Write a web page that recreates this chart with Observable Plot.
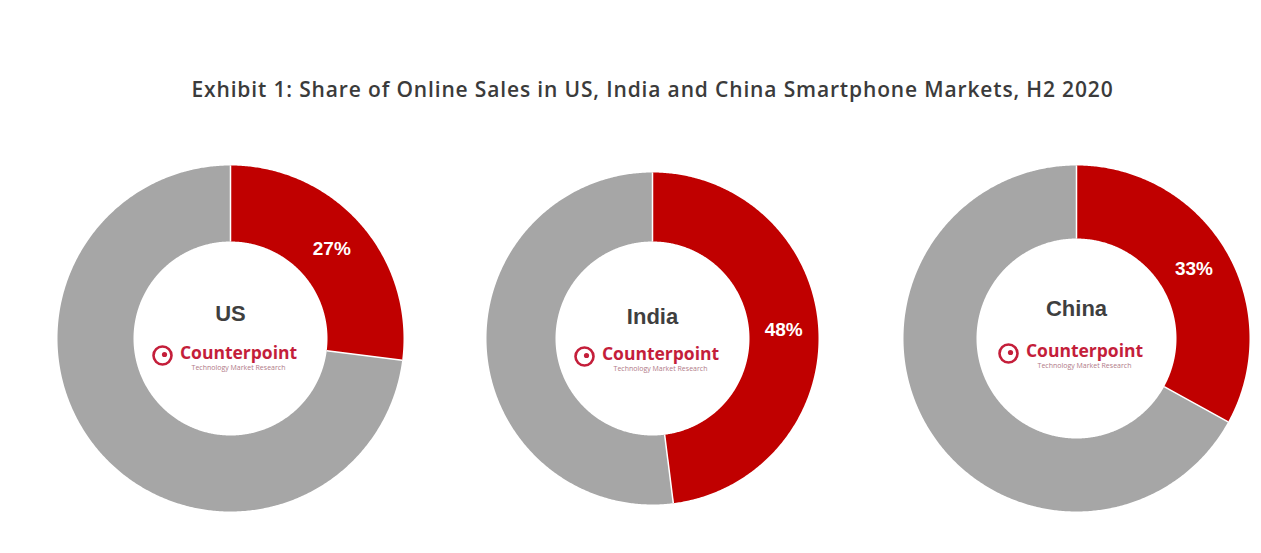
<!DOCTYPE html>
<html><head><meta charset="utf-8">
<script src="https://cdn.jsdelivr.net/npm/d3@7"></script>
<script src="https://cdn.jsdelivr.net/npm/@observablehq/plot@0.6"></script>
<style>
body{margin:0;background:#fff;}
#wrap{position:relative;width:1261px;height:553px;overflow:hidden;}
#title{position:absolute;left:0;top:75px;width:1305px;text-align:center;font-family:"Open Sans",sans-serif;font-weight:600;font-size:21px;letter-spacing:0.85px;color:#3b3b3b;white-space:nowrap;}
#chart{position:absolute;left:0;top:0;}
</style></head><body>
<div id="wrap"><div id="chart"></div><div id="title">Exhibit 1: Share of Online Sales in US, India and China Smartphone Markets, H2 2020</div></div>
<script>
// ---- data ----
const markets = ["US", "India", "China"];
const onlineShare = [27, 48, 33];
const otherShare = [73, 52, 67];
const sliceNames = ["Online", "Other"];
const sliceColors = ["#c00000", "#a6a6a6"];
const brand = "Counterpoint";
const brandSub = "Technology Market Research";

// ---- layout (positions/sizes) ----
const W = 1261, H = 553;
const layout = [
  {cx: 230, cy: 338, R: 173, r: 97, nameDy: -25, logoDy: 17},
  {cx: 652, cy: 338, R: 166, r: 97, nameDy: -22, logoDy: 18},
  {cx: 1076, cy: 338, R: 173, r: 100, nameDy: -30, logoDy: 15}
];

// ---- build geometry from values ----
const polys = [], seps = [], pctLabels = [], centers = [];
markets.forEach((m, i) => {
  const L = layout[i];
  const vals = [onlineShare[i], otherShare[i]];
  const total = d3.sum(vals);
  let start = 0;
  vals.forEach((v, j) => {
    const a0 = start / total * 2 * Math.PI, a1 = (start + v) / total * 2 * Math.PI;
    const n = Math.max(2, Math.ceil((a1 - a0) / (Math.PI / 360)));
    const key = m + "-" + sliceNames[j];
    for (let k = 0; k <= n; k++) {
      const a = a0 + (a1 - a0) * k / n;
      polys.push({key, color: sliceColors[j], x: L.cx + L.R * Math.sin(a), y: L.cy - L.R * Math.cos(a)});
    }
    for (let k = n; k >= 0; k--) {
      const a = a0 + (a1 - a0) * k / n;
      polys.push({key, color: sliceColors[j], x: L.cx + L.r * Math.sin(a), y: L.cy - L.r * Math.cos(a)});
    }
    seps.push({x1: L.cx + L.r * Math.sin(a0), y1: L.cy - L.r * Math.cos(a0), x2: L.cx + L.R * Math.sin(a0), y2: L.cy - L.R * Math.cos(a0)});
    if (j === 0) {
      const am = (a0 + a1) / 2, rm = (L.R + L.r) / 2;
      pctLabels.push({x: L.cx + rm * Math.sin(am), y: L.cy - rm * Math.cos(am), text: v + "%"});
    }
    start += v;
  });
  centers.push({name: m, cx: L.cx, cy: L.cy, nameDy: L.nameDy, logoDy: L.logoDy});
});

const brandColor = "#c41e3a";
const chart = Plot.plot({
  width: W, height: H,
  margin: 0,
  x: {domain: [0, W], range: [0, W], axis: null},
  y: {domain: [0, H], range: [0, H], axis: null},
  color: {type: "identity"},
  style: {fontFamily: "'Liberation Sans', Arial, sans-serif", background: "white"},
  marks: [
    Plot.line(polys, {x: "x", y: "y", z: "key", fill: "color", stroke: null, curve: "linear-closed"}),
    Plot.link(seps, {x1: "x1", y1: "y1", x2: "x2", y2: "y2", stroke: "white", strokeWidth: 1.5}),
    Plot.text(pctLabels, {x: "x", y: "y", text: "text", fill: "white", fontSize: 19, fontWeight: "bold"}),
    Plot.text(centers, {x: "cx", y: d => d.cy + d.nameDy, text: "name", fill: "#3f3f3f", fontSize: 22, fontWeight: "bold"}),
    Plot.dot(centers, {x: d => d.cx - 68, y: d => d.cy + d.logoDy, r: 9, stroke: brandColor, strokeWidth: 2.6, fill: "none"}),
    Plot.dot(centers, {x: d => d.cx - 66, y: d => d.cy + d.logoDy - 1, r: 2.6, fill: brandColor}),
    Plot.text(centers, {x: d => d.cx + 8, y: d => d.cy + d.logoDy - 2, text: () => brand, fill: brandColor, fontSize: 17.5, fontWeight: "bold", fontFamily: "'Open Sans', sans-serif"}),
    Plot.text(centers, {x: d => d.cx + 8, y: d => d.cy + d.logoDy + 12, text: () => brandSub, fill: "#b07a88", fontSize: 7, fontFamily: "'Open Sans', sans-serif"})
  ]
});
document.getElementById("chart").appendChild(chart);
</script>
</body></html>
